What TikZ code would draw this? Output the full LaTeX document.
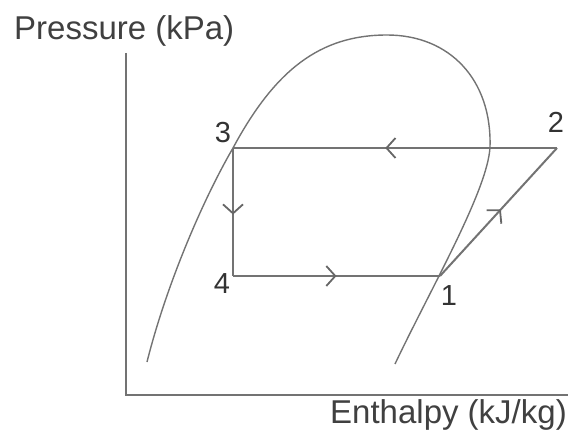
\documentclass[tikz,border=0pt]{standalone}
\usepackage{fontspec}
\setmainfont{Liberation Sans}
\usetikzlibrary{arrows.meta,decorations.markings}
\tikzset{
  axislabel/.style={font=\fontsize{33}{38}\selectfont, text=black!75, inner sep=0pt},
  statelabel/.style={font=\fontsize{29}{34}\selectfont, text=black!80, inner sep=0pt},
  cycle line/.style={draw=black!55, line width=2pt},
  midarrow/.style={postaction={decorate}, decoration={markings,
      mark=at position #1 with {\arrow[black!60, line width=1.8pt]{Straight Barb[length=9pt,width=20pt]}}}}
}
\begin{document}
\begin{tikzpicture}[x=1pt, y=-1pt]
  \useasboundingbox (0,0) rectangle (568,441);
  % axes
  \coordinate (origin) at (126,395);
  \coordinate (ytop) at (126,53);
  \coordinate (xend) at (568,395);
  \draw[black!55, line width=2pt] (ytop) -- (origin) -- (xend);
  \node[axislabel, anchor=base west] (ylab) at (14,40) {Pressure (kPa)};
  \node[axislabel, anchor=base west] (xlab) at (330,423) {Enthalpy (kJ/kg)};
  % saturation dome
  \draw[black!55, line width=1.4pt] (147,362)
    .. controls (165,290) and (200,205) .. (233,148)
    .. controls (275,70) and (320,35) .. (387,35)
    .. controls (450,35) and (492,80) .. (490,147)
    .. controls (488,190) and (430,290) .. (395,364);
  % cycle states
  \coordinate (s1) at (440,276);
  \coordinate (s2) at (557,148);
  \coordinate (s3) at (233,148);
  \coordinate (s4) at (233,276);
  \node[statelabel] (l1) at (449,296) {1};
  \node[statelabel] (l2) at (556,122) {2};
  \node[statelabel] (l3) at (223,133) {3};
  \node[statelabel] (l4) at (222,284) {4};
  % processes
  \draw[cycle line, midarrow=0.53] (s2) -- (s3);
  \draw[cycle line, midarrow=0.52] (s3) -- (s4);
  \draw[cycle line, midarrow=0.5] (s4) -- (s1);
  \draw[cycle line, midarrow=0.52] (s1) -- (s2);
\end{tikzpicture}
\end{document}
